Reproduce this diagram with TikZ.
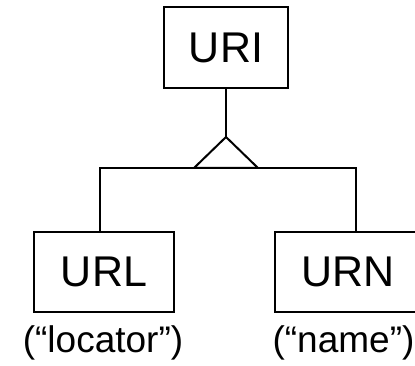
\documentclass[tikz,border=0pt]{standalone}
\usepackage{fontspec}
\setmainfont{Liberation Sans}
\usetikzlibrary{positioning}
\tikzset{
  uribox/.style={draw=black,line width=2pt,inner sep=0pt,font=\fontsize{43}{43}\selectfont},
  uriline/.style={line width=2pt},
  urinote/.style={inner sep=0pt,anchor=base,font=\fontsize{37}{37}\selectfont}
}
\begin{document}
\begin{tikzpicture}[x=1pt,y=-1pt]
  \useasboundingbox (0,0) rectangle (415,366);
  \node[uribox,minimum width=124pt,minimum height=81pt] (uri) at (226,47.5) {URI};
  \node[uribox,minimum width=140pt,minimum height=80pt] (url) at (104,272) {URL};
  \node[uribox,minimum width=146pt,minimum height=80pt] (urn) at (348,272) {URN};
  \node[urinote] (urlnote) at (103,352) {(“locator”)};
  \node[urinote] (urnnote) at (343.5,352) {(“name”)};
  % generalisation triangle and bar
  \coordinate (apex) at (226,137);
  \coordinate (barL) at (100,168);
  \coordinate (barR) at (356,168);
  \draw[uriline] (uri.south) -- (apex);
  \draw[uriline,line join=miter] (apex) -- ++(-32,31) -- ++(64,0) -- cycle;
  \draw[uriline] (url.north -| barL) -- (barL) -- (barR) -- (urn.north -| barR);
\end{tikzpicture}
\end{document}
